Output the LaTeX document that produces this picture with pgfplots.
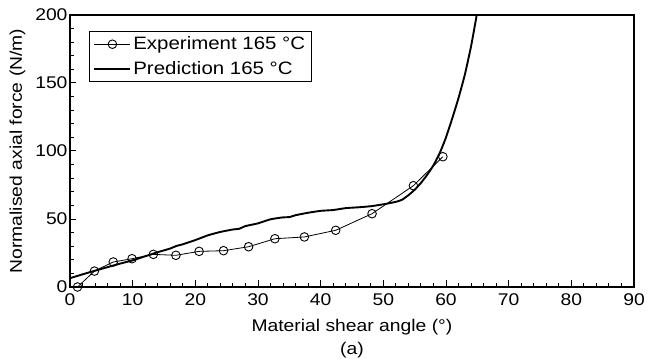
\documentclass[border=0pt]{standalone}
\usepackage{fontspec}
\setmainfont[FakeStretch=1.14]{Liberation Sans}
\usepackage{pgfplots}
\pgfplotsset{compat=1.18}
\newcommand{\ff}{\fontsize{17}{20}\selectfont}
\newcommand{\fl}{\fontsize{18}{21}\selectfont}
\pgfplotsset{
  expleg/.style={legend image code/.code={\draw[mark repeat=2,mark phase=2,##1] plot coordinates {(0bp,0bp) (18bp,0bp) (36bp,0bp)};}},
  predleg/.style={legend image code/.code={\draw[##1] (0bp,0bp) -- (36bp,0bp);}},
}
\begin{document}
\begin{tikzpicture}
\useasboundingbox (-70bp,-72bp) rectangle (579bp,287bp);
\begin{axis}[
  at={(0,0)}, anchor=south west,
  scale only axis, width=564bp, height=272bp,
  xmin=0, xmax=90, ymin=0, ymax=200,
  xtick={0,10,...,90}, ytick={0,50,...,200},
  minor x tick num=4, minor y tick num=4,
  tick pos=left, tick align=inside,
  major tick length=6.5bp, minor tick length=4bp,
  axis line style={line width=1.1bp},
  every tick/.style={line width=1bp, black},
  /pgf/number format/assume math mode=true,
  tick label style={font=\ff},
  xticklabel style={yshift=-3bp},
  yticklabel style={xshift=1bp},
  label style={font=\ff},
  xlabel={Material shear angle (°)},
  xlabel style={at={(rel axis cs:0.5,0)}, anchor=base, yshift=-44bp},
  ylabel={Normalised axial force (N/m)},
  ylabel style={at={([xshift=-48bp]rel axis cs:0,0.5)}, anchor=base, rotate=0},
  legend style={font=\fl, at={(rel axis cs:0.0337,0.941)}, anchor=north west,
    draw=black, line width=0.9bp, inner xsep=4bp, inner ysep=3.5bp, row sep=6bp,
    cells={anchor=west}},
  legend cell align=left,
  clip=true,
]
\addplot[black, line width=0.8bp, mark=o, mark size=4.3bp,
  mark options={fill=white, line width=0.9bp}, expleg]
coordinates {
(1.2,0) (3.9,11.7) (6.9,18.4) (9.9,20.8) (13.3,24) (16.9,23.3) (20.6,26.2)
(24.5,26.7) (28.5,29.6) (32.7,35.5) (37.4,36.8) (42.4,41.7) (48.2,53.9)
(54.8,74.5) (59.5,95.8)
};
\addlegendentry{Experiment 165 °C}
\addplot[black, line width=1.9bp, smooth, tension=0.3, predleg]
coordinates {
(0,6.5) (2,9.3) (4,12) (6,14.6) (8,17.2) (10,19.6) (12,22.6) (14,25.6)
(16,28.3) (17,30.2) (18,31.4) (20,34.5) (22,38) (24,40.5) (26,42.3) (27,42.8)
(28,44.8) (30,46.8) (32,49.8) (34,51.2) (35,51.4) (36,52.8) (38,54.6) (40,56)
(42,56.6) (44,58) (46,58.6) (48,59.4) (50,60.8) (52,62.6) (53,64.2) (54,67.5)
(55,71.5) (56,76.5) (57,82.5) (58,89.5) (59,98.5) (60,110) (61,124) (62,139)
(63,156) (64,177) (64.9,200) (65.2,210)
};
\addlegendentry{Prediction 165 °C}
\end{axis}
\node[font=\ff, anchor=base] at (282bp,-67bp) {(a)};
\end{tikzpicture}
\end{document}
